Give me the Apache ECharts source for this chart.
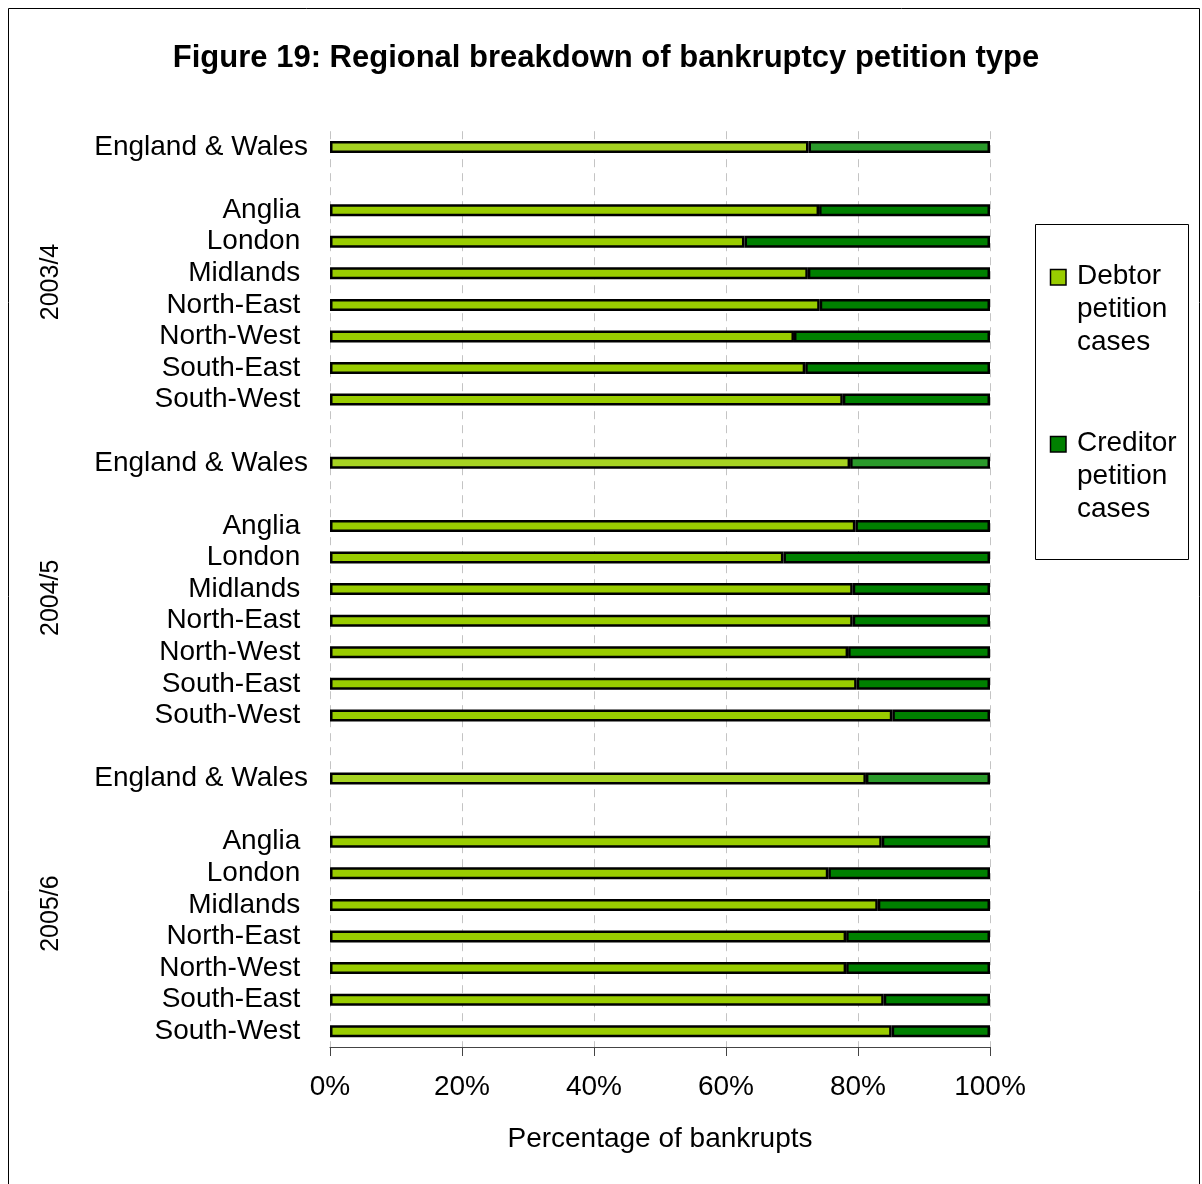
<!DOCTYPE html>
<html>
<head>
<meta charset="utf-8">
<title>Figure 19: Regional breakdown of bankruptcy petition type</title>
<script src="https://cdn.jsdelivr.net/npm/echarts@6/dist/echarts.min.js"></script>
<style>
  html, body { margin: 0; padding: 0; background: #fff; }
  #chart { width: 1202px; height: 1184px; }
</style>
</head>
<body>
<div id="chart"></div>
<script>
// Petition type shares (% of bankrupts) by region and financial year
const years = ['2003/4', '2004/5', '2005/6'];
const nationLabel = 'England & Wales';
const regions = ['Anglia', 'London', 'Midlands', 'North-East', 'North-West', 'South-East', 'South-West'];

// England & Wales totals, one value per year
const nationDebtor = [72.5, 78.8, 81.2];
const nationCreditor = [27.5, 21.2, 18.8];

// Regional shares, in the order of `regions`
const debtor2003 = [74.1, 62.8, 72.4, 74.2, 70.3, 72.0, 77.7];
const creditor2003 = [25.9, 37.2, 27.6, 25.8, 29.7, 28.0, 22.3];
const debtor2004 = [79.6, 68.7, 79.2, 79.2, 78.5, 79.8, 85.2];
const creditor2004 = [20.4, 31.3, 20.8, 20.8, 21.5, 20.2, 14.8];
const debtor2005 = [83.6, 75.5, 83.0, 78.2, 78.2, 83.9, 85.1];
const creditor2005 = [16.4, 24.5, 17.0, 21.8, 21.8, 16.1, 14.9];

const regionDebtor = [debtor2003, debtor2004, debtor2005];
const regionCreditor = [creditor2003, creditor2004, creditor2005];

const axisTicks = { min: 0, max: 100, interval: 20 };

const seriesNames = ['Debtor\npetition\ncases', 'Creditor\npetition\ncases'];
const DEBTOR = '#99cc00';
const CREDITOR = '#008000';
const DEBTOR_TOTAL = '#a6d322';
const CREDITOR_TOTAL = '#2b9a2b';
const FONT = '"Liberation Sans", Arial, sans-serif';

// One row per bar, with blank spacer rows between the blocks
const rows = [];
years.forEach((yr, y) => {
  rows.push({ label: nationLabel, debtor: nationDebtor[y], creditor: nationCreditor[y], total: true });
  rows.push({ label: '', debtor: null, creditor: null });
  regions.forEach((r, i) => {
    rows.push({ label: r, debtor: regionDebtor[y][i], creditor: regionCreditor[y][i], total: false });
  });
  if (y < years.length - 1) rows.push({ label: '', debtor: null, creditor: null });
});

const rowKeys = rows.map((r, i) => 'row' + i);

function barData(field, base, totalColor) {
  return rows.map(r => {
    if (r[field] == null) return '-';
    return { value: r[field], itemStyle: { color: r.total ? totalColor : base } };
  });
}

const chart = echarts.init(document.getElementById('chart'));

const gridTop = 131.2, gridBottom = 137, gridLeft = 330, gridRight = 212;
const band = (1184 - gridTop - gridBottom) / rows.length;

// Year labels sit beside each block of regions
const yearCenters = years.map((_, y) => 282 + y * band * 10);

chart.setOption({
  animation: false,
  backgroundColor: '#ffffff',
  textStyle: { fontFamily: FONT },
  title: {
    text: 'Figure 19: Regional breakdown of bankruptcy petition type',
    left: 606,
    top: 43,
    textAlign: 'center',
    padding: 0,
    textStyle: { fontFamily: FONT, fontSize: 31, fontWeight: 'bold', color: '#000' }
  },
  grid: { left: gridLeft, right: gridRight, top: gridTop, bottom: gridBottom },
  xAxis: {
    type: 'value',
    min: axisTicks.min,
    max: axisTicks.max,
    interval: axisTicks.interval,
    name: 'Percentage of bankrupts',
    nameLocation: 'middle',
    nameGap: 78,
    nameTextStyle: { fontFamily: FONT, fontSize: 28, color: '#000' },
    axisLine: { show: true, lineStyle: { color: '#444', width: 1 } },
    axisTick: { show: true, length: 9, lineStyle: { color: '#444', width: 1 } },
    axisLabel: { formatter: '{value}%', margin: 26, fontFamily: FONT, fontSize: 28, color: '#000' },
    splitLine: { show: true, lineStyle: { color: '#c4c4c4', width: 1, type: [8, 6] } }
  },
  yAxis: {
    type: 'category',
    inverse: true,
    data: rowKeys,
    axisLine: { show: false },
    axisTick: { show: false },
    axisLabel: {
      margin: 22,
      interval: 0,
      fontFamily: FONT,
      fontSize: 28,
      color: '#000',
      formatter: (v, i) => {
        const r = rows[i];
        return r.total ? r.label : (r.label ? r.label + ' ' : '');
      }
    }
  },
  series: [
    {
      name: seriesNames[0],
      type: 'bar',
      stack: 'share',
      barWidth: 12,
      itemStyle: { color: DEBTOR, borderColor: '#000', borderWidth: 2.5 },
      data: barData('debtor', DEBTOR, DEBTOR_TOTAL)
    },
    {
      name: seriesNames[1],
      type: 'bar',
      stack: 'share',
      barWidth: 12,
      itemStyle: { color: CREDITOR, borderColor: '#000', borderWidth: 2.5 },
      data: barData('creditor', CREDITOR, CREDITOR_TOTAL)
    }
  ],
  graphic: [
    // outer frame
    {
      type: 'rect', z: -1, silent: true,
      shape: { x: 8.5, y: 8.5, width: 1191, height: 1200 },
      style: { fill: null, stroke: '#000', lineWidth: 1 }
    },
    // legend frame
    {
      type: 'rect', silent: true,
      shape: { x: 1035.5, y: 224.5, width: 153, height: 335 },
      style: { fill: '#fff', stroke: '#000', lineWidth: 1 }
    },
    {
      type: 'rect', silent: true,
      shape: { x: 1050.5, y: 269.5, width: 15.5, height: 15.5 },
      style: { fill: DEBTOR, stroke: '#000', lineWidth: 1.5 }
    },
    {
      type: 'text', silent: true, x: 1077, y: 259.5,
      style: { text: seriesNames[0], font: '28px ' + FONT, lineHeight: 33, fill: '#000', align: 'left', verticalAlign: 'top' }
    },
    {
      type: 'rect', silent: true,
      shape: { x: 1050.5, y: 436.5, width: 15.5, height: 15.5 },
      style: { fill: CREDITOR, stroke: '#000', lineWidth: 1.5 }
    },
    {
      type: 'text', silent: true, x: 1077, y: 426.5,
      style: { text: seriesNames[1], font: '28px ' + FONT, lineHeight: 33, fill: '#000', align: 'left', verticalAlign: 'top' }
    }
  ].concat(years.map((yr, y) => ({
    type: 'text', silent: true,
    x: 51, y: yearCenters[y], rotation: Math.PI / 2,
    style: { text: yr, font: '25px ' + FONT, fill: '#000', align: 'center', verticalAlign: 'middle' }
  })))
});
</script>
</body>
</html>
